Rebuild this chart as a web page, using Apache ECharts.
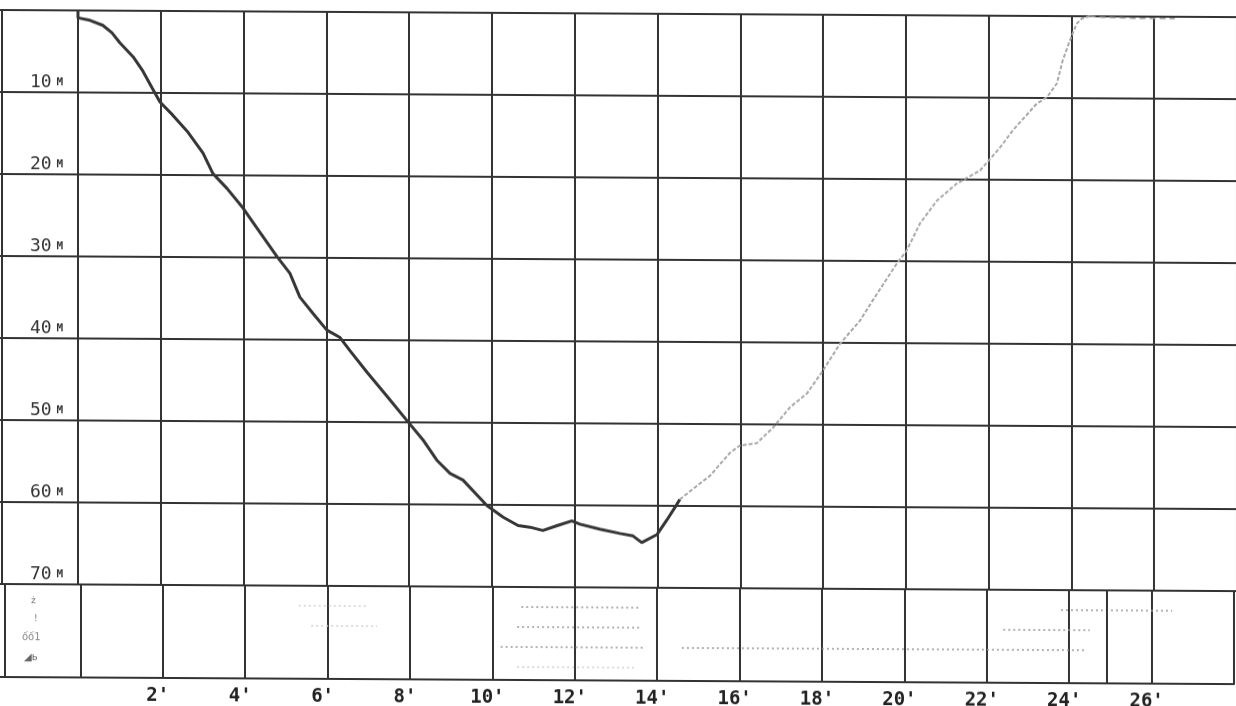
<!DOCTYPE html>
<html>
<head>
<meta charset="utf-8">
<title>Dive profile</title>
<script src="https://cdn.jsdelivr.net/npm/echarts@6/dist/echarts.min.js"></script>
<style>
  html, body { margin: 0; padding: 0; background: #fff; overflow: hidden; }
  /* the scanned printout is slightly skewed: right side sits a few px lower;
     the chart is shifted left so the -2' column edge falls off the page */
  #chart { position: absolute; left: -5px; top: 0; width: 1242px; height: 706px;
           transform: skewY(0.33deg); transform-origin: 5px 0; }
</style>
</head>
<body>
<div id="chart"></div>
<script>
// tick labels
const timeTicks = [2, 4, 6, 8, 10, 12, 14, 16, 18, 20, 22, 24, 26];
const depthTicks = [10, 20, 30, 40, 50, 60, 70];

// descent + bottom phase (dark trace), minutes / metres
const descentTime = [0, 0, 0.29, 0.6, 0.82, 1.01, 1.33, 1.55, 1.79, 1.98, 2.29, 2.66, 3.02, 3.26, 3.6, 3.99, 4.32, 4.81, 5.12, 5.36, 5.68, 6.01, 6.33, 6.57, 6.98, 7.46, 7.95, 8.33, 8.67, 8.99, 9.3, 9.88, 10.27, 10.63, 10.92, 11.23, 11.57, 11.93, 12.13, 12.61, 13.09, 13.41, 13.62, 13.99, 14.23, 14.47, 14.54];
const descentDepth = [0, 0.9, 1.2, 1.8, 2.7, 3.9, 5.6, 7.2, 9.4, 11.1, 12.7, 14.8, 17.3, 19.8, 21.6, 24.0, 26.4, 29.9, 31.9, 34.8, 36.8, 38.8, 39.7, 41.3, 43.9, 46.8, 49.8, 52.1, 54.6, 56.2, 57.0, 60.1, 61.5, 62.5, 62.7, 63.1, 62.5, 61.9, 62.3, 62.9, 63.4, 63.7, 64.5, 63.5, 61.7, 59.8, 59.2];

// ascent (light dotted trace)
const ascentTime = [14.54, 14.86, 15.27, 15.75, 15.99, 16.4, 16.79, 17.2, 17.61, 17.97, 18.41, 18.89, 19.2, 19.78, 20.02, 20.34, 20.75, 21.23, 21.47, 21.79, 22.27, 22.58, 23.16, 23.41, 23.65, 23.79, 23.96, 24.13, 24.25, 24.44];
const ascentDepth = [59.2, 57.9, 56.3, 53.5, 52.6, 52.3, 50.4, 47.9, 46.2, 43.6, 40.1, 37.3, 34.8, 30.3, 28.7, 25.4, 22.6, 20.5, 19.8, 18.9, 16.1, 14.0, 10.7, 9.9, 8.2, 5.4, 3.0, 0.9, 0.3, 0.0];

// surface after the dive
const surfaceTime = [24.44, 24.7, 25.5, 26.5];
const surfaceDepth = [0.0, 0.1, 0.2, 0.2];

// lower strip: dotted record rows (row, from, to, tone)
const stripRow = [1, 1, 1, 2, 2, 2, 3, 3, 4];
const stripFrom = [5.3, 10.7, 23.8, 5.6, 10.6, 22.4, 10.2, 14.6, 10.6];
const stripTo = [7.0, 13.6, 26.5, 7.2, 13.6, 24.5, 13.7, 24.4, 13.5];
const stripTone = [0, 1, 1, 0, 1, 1, 1, 1, 0];
const stripMarkTime = 24.9;

const zip = (xs, ys) => xs.map((x, i) => [x, ys[i]]);

const gridColor = '#333';
const lineW = 2;

const chart = echarts.init(document.getElementById('chart'));

const stripSeries = stripRow.map((r, i) => ({
  type: 'line',
  xAxisIndex: 1,
  yAxisIndex: 1,
  symbol: 'none',
  silent: true,
  data: [[stripFrom[i], r], [stripTo[i], r]],
  lineStyle: { color: stripTone[i] ? '#9a9a9a' : '#d2d2d2', width: 1.5, type: [2, 3] },
  markLine: i === 0 ? {
    symbol: 'none',
    silent: true,
    label: { show: false },
    lineStyle: { color: gridColor, width: lineW, type: 'solid' },
    data: [{ xAxis: stripMarkTime }]
  } : undefined
}));

chart.setOption({
  animation: false,
  backgroundColor: '#fff',
  grid: [
    { left: 0.2, top: 10, width: 1242, height: 574 },
    { left: 0.2, top: 584, width: 1242, height: 93 }
  ],
  xAxis: [
    {
      type: 'value', gridIndex: 0, min: -2, max: 28, interval: 2,
      axisLine: { show: false }, axisTick: { show: false }, axisLabel: { show: false },
      splitLine: { show: true, lineStyle: { color: gridColor, width: lineW } }
    },
    {
      type: 'value', gridIndex: 1, min: -2, max: 28, interval: 2,
      axisLine: { show: true, onZero: false, lineStyle: { color: gridColor, width: lineW } },
      axisTick: { show: false },
      splitLine: { show: true, lineStyle: { color: gridColor, width: lineW } },
      axisLabel: {
        margin: 9,
        padding: [0, 10, 0, 0],
        color: '#222',
        fontFamily: 'DejaVu Sans Mono',
        fontWeight: 'bold',
        fontSize: 19,
        formatter: v => timeTicks.includes(v) ? v + "'" : ''
      }
    }
  ],
  yAxis: [
    {
      type: 'value', gridIndex: 0, inverse: true, min: 0, max: 70, interval: 10,
      offset: -7,
      axisLine: { show: true, onZero: false, lineStyle: { color: gridColor, width: lineW } },
      axisTick: { show: false },
      splitLine: { show: true, lineStyle: { color: gridColor, width: lineW } },
      axisLabel: {
        inside: true,
        align: 'right',
        verticalAlign: 'bottom',
        margin: 61,
        padding: [0, 0, 1, 0],
        formatter: v => depthTicks.includes(v) ? '{n|' + v + '}{u|M}' : '',
        rich: {
          n: { fontFamily: 'DejaVu Sans Mono', fontSize: 18, color: '#333', lineHeight: 18, verticalAlign: 'bottom' },
          u: { fontFamily: 'DejaVu Sans Mono', fontSize: 11, fontWeight: 'bold', color: '#333', lineHeight: 18, padding: [0, 0, 3, 5], verticalAlign: 'bottom' }
        }
      }
    },
    {
      type: 'value', gridIndex: 1, inverse: true, min: 0, max: 4.65,
      offset: -7,
      axisLine: { show: true, onZero: false, lineStyle: { color: gridColor, width: lineW } },
      axisTick: { show: false }, axisLabel: { show: false }, splitLine: { show: false }
    }
  ],
  graphic: [
    { type: 'text', left: 36, top: 596, style: { text: 'ż', fontSize: 9, fill: '#777', fontFamily: 'DejaVu Sans' } },
    { type: 'text', left: 39, top: 614, style: { text: '!', fontSize: 9, fill: '#777', fontFamily: 'DejaVu Sans' } },
    { type: 'text', left: 27, top: 632, style: { text: 'ốố1', fontSize: 10, fill: '#888', fontFamily: 'DejaVu Sans' } },
    { type: 'text', left: 29, top: 652, style: { text: '◢ь', fontSize: 10, fill: '#666', fontFamily: 'DejaVu Sans' } }
  ],
  series: [
    {
      name: 'descent', type: 'line', xAxisIndex: 0, yAxisIndex: 0,
      symbol: 'none', data: zip(descentTime, descentDepth),
      lineStyle: { color: '#363636', width: 3 }
    },
    {
      name: 'ascent', type: 'line', xAxisIndex: 0, yAxisIndex: 0,
      symbol: 'none', data: zip(ascentTime, ascentDepth),
      lineStyle: { color: '#a9a9a9', width: 2, type: [4, 2] }
    },
    {
      name: 'surface', type: 'line', xAxisIndex: 0, yAxisIndex: 0,
      symbol: 'none', data: zip(surfaceTime, surfaceDepth),
      lineStyle: { color: '#9c9c9c', width: 1.5, type: [6, 4] }
    },
    ...stripSeries
  ]
});
</script>
</body>
</html>
